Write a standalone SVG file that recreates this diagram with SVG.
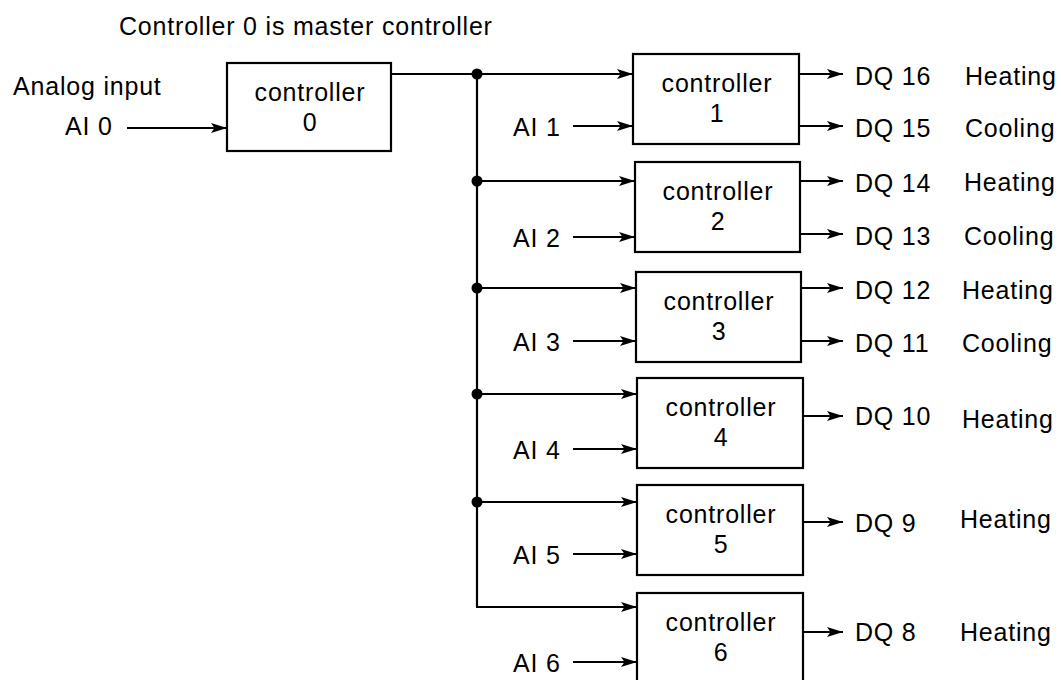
<svg xmlns="http://www.w3.org/2000/svg" width="1061" height="680" viewBox="0 0 1061 680">
<style>
text{font-family:"Liberation Sans",Arial,Helvetica,sans-serif;font-size:25px;letter-spacing:0.8px;fill:#000}
.c{text-anchor:middle}
.box{fill:#fff;stroke:#000;stroke-width:2.2}
.ln{fill:none;stroke:#000;stroke-width:2.2}
.ar{marker-end:url(#ah)}
</style>
<defs>
<marker id="ah" markerUnits="userSpaceOnUse" markerWidth="18" markerHeight="12" refX="16" refY="5" orient="auto">
<path d="M0,0 L16,5 L0,10 L3.5,5 z" fill="#000"/>
</marker>
</defs>
<rect width="1061" height="680" fill="#fff"/>
<text x="119" y="35">Controller 0 is master controller</text>
<text x="13" y="95">Analog input</text>
<text x="65" y="135">AI 0</text>

<g id="connectors">
<line class="ln ar" x1="127" y1="128" x2="227" y2="128"/>
<polyline class="ln" points="391,74 477,74 477,607"/>
<line class="ln ar" x1="477" y1="74" x2="633" y2="74"/>
<line class="ln ar" x1="477" y1="181" x2="635" y2="181"/>
<line class="ln ar" x1="477" y1="288" x2="636" y2="288"/>
<line class="ln ar" x1="477" y1="394" x2="637" y2="394"/>
<line class="ln ar" x1="477" y1="502" x2="637" y2="502"/>
<line class="ln ar" x1="476" y1="607" x2="637" y2="607"/>
<circle cx="477" cy="74" r="5.5"/>
<circle cx="477" cy="181" r="5.5"/>
<circle cx="477" cy="288" r="5.5"/>
<circle cx="477" cy="394" r="5.5"/>
<circle cx="477" cy="502" r="5.5"/>
<line class="ln ar" x1="573" y1="126" x2="633" y2="126"/>
<line class="ln ar" x1="573" y1="237" x2="635" y2="237"/>
<line class="ln ar" x1="573" y1="341" x2="636" y2="341"/>
<line class="ln ar" x1="573" y1="449" x2="637" y2="449"/>
<line class="ln ar" x1="573" y1="554" x2="637" y2="554"/>
<line class="ln ar" x1="573" y1="662" x2="637" y2="662"/>
<line class="ln ar" x1="799" y1="74" x2="843" y2="74"/>
<line class="ln ar" x1="799" y1="126" x2="843" y2="126"/>
<line class="ln ar" x1="800" y1="181" x2="843" y2="181"/>
<line class="ln ar" x1="800" y1="234" x2="843" y2="234"/>
<line class="ln ar" x1="801" y1="288" x2="843" y2="288"/>
<line class="ln ar" x1="801" y1="341" x2="843" y2="341"/>
<line class="ln ar" x1="803" y1="416" x2="843" y2="416"/>
<line class="ln ar" x1="803" y1="522" x2="843" y2="522"/>
<line class="ln ar" x1="803" y1="632" x2="843" y2="632"/>
</g>

<g id="controller0">
<rect class="box" x="227" y="63" width="164" height="88"/>
<text class="c" x="310" y="101">controller</text>
<text class="c" x="310" y="131">0</text>
</g>
<g id="controller1">
<rect class="box" x="633" y="54" width="166" height="90"/>
<text class="c" x="717" y="92">controller</text>
<text class="c" x="717" y="122">1</text>
</g>
<g id="controller2">
<rect class="box" x="635" y="162" width="165" height="90"/>
<text class="c" x="718" y="200">controller</text>
<text class="c" x="718" y="230">2</text>
</g>
<g id="controller3">
<rect class="box" x="636" y="272" width="165" height="90"/>
<text class="c" x="719" y="310">controller</text>
<text class="c" x="719" y="340">3</text>
</g>
<g id="controller4">
<rect class="box" x="637" y="378" width="166" height="90"/>
<text class="c" x="721" y="416">controller</text>
<text class="c" x="721" y="446">4</text>
</g>
<g id="controller5">
<rect class="box" x="637" y="485" width="166" height="90"/>
<text class="c" x="721" y="523">controller</text>
<text class="c" x="721" y="553">5</text>
</g>
<g id="controller6">
<rect class="box" x="637" y="593" width="166" height="90"/>
<text class="c" x="721" y="631">controller</text>
<text class="c" x="721" y="661">6</text>
</g>

<g id="inputs">
<text x="513" y="136">AI 1</text>
<text x="513" y="247">AI 2</text>
<text x="513" y="351">AI 3</text>
<text x="513" y="459">AI 4</text>
<text x="513" y="564">AI 5</text>
<text x="513" y="672">AI 6</text>
</g>
<g id="outputs">
<text x="855" y="85">DQ 16</text><text x="965" y="85">Heating</text>
<text x="855" y="137">DQ 15</text><text x="965" y="137">Cooling</text>
<text x="855" y="192">DQ 14</text><text x="964" y="191">Heating</text>
<text x="855" y="245">DQ 13</text><text x="964" y="245">Cooling</text>
<text x="855" y="299">DQ 12</text><text x="962" y="299">Heating</text>
<text x="855" y="352">DQ 11</text><text x="962" y="352">Cooling</text>
<text x="855" y="425">DQ 10</text><text x="962" y="428">Heating</text>
<text x="855" y="532">DQ 9</text><text x="960" y="528">Heating</text>
<text x="855" y="641">DQ 8</text><text x="960" y="641">Heating</text>
</g>
</svg>
